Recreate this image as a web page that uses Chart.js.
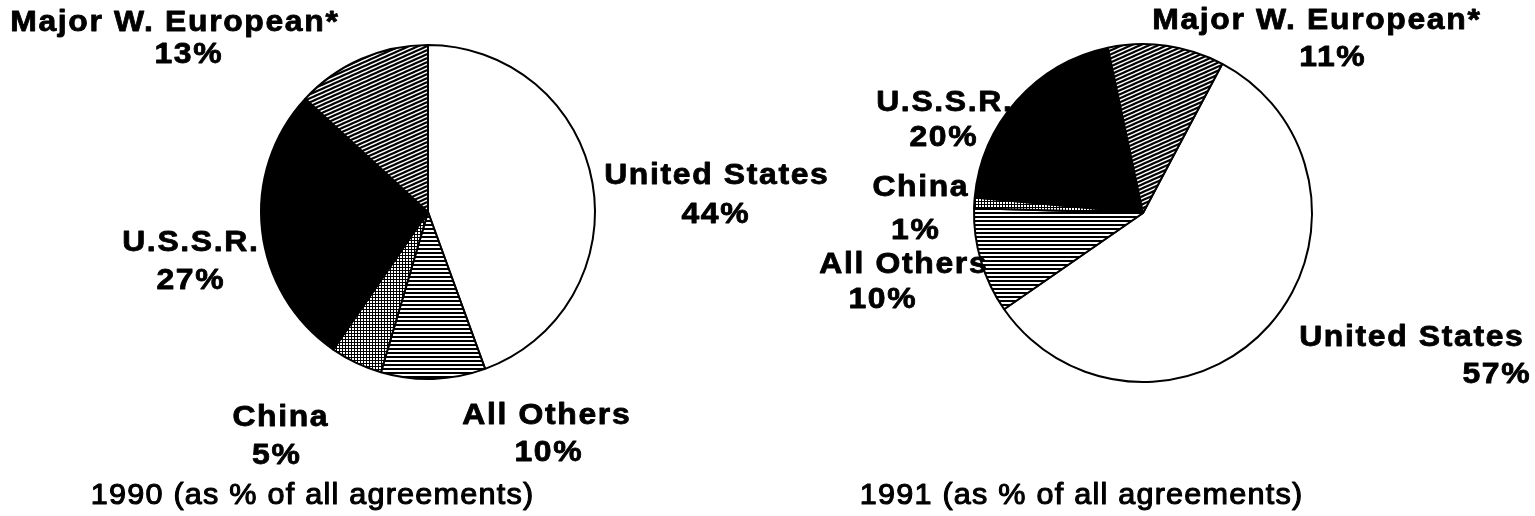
<!DOCTYPE html>
<html>
<head>
<meta charset="utf-8">
<script src="https://cdn.jsdelivr.net/npm/chart.js@4.4.0/dist/chart.umd.min.js"></script>
<style>
  html, body { margin: 0; background: #fff; }
  #wrap { position: relative; width: 1535px; height: 516px; }
  canvas { position: absolute; left: 0; top: 0; }
</style>
</head>
<body>
<div id="wrap">
  <canvas id="c1990" width="1535" height="516"></canvas>
  <canvas id="c1991" width="1535" height="516"></canvas>
</div>
<script>
// categories in clockwise order, starting at the rotation angle
const categories = ['United States', 'All Others', 'China', 'U.S.S.R.', 'Major W. European*'];
const values1990 = [44, 10, 5, 27, 13];
const values1991 = [57, 10, 1, 20, 11];
const titles = ['1990 (as % of all agreements)', '1991 (as % of all agreements)'];

// where the label text sits (name line, percent line) - text baselines
const namePos1990 = [[716, 184], [546, 424], [280, 426], [190, 251], [174, 31]];
const pctPos1990  = [[715, 223], [548, 461], [276, 464], [190, 289], [188, 63]];
const namePos1991 = [[1411, 346], [903, 273], [920, 196], [944, 111], [1316, 29]];
const pctPos1991  = [[1496, 383], [882, 308], [915, 239], [943, 146], [1332, 66]];

const W = 1535, H = 516;

function makePattern(ctx, w, h, draw) {
    const c = document.createElement('canvas');
    c.width = w; c.height = h;
    const t = c.getContext('2d');
    t.fillStyle = '#fff';
    t.fillRect(0, 0, w, h);
    t.fillStyle = '#000';
    t.strokeStyle = '#000';
    draw(t, w, h);
    return ctx.createPattern(c, 'repeat');
}

function fillsFor(ctx) {
    const diag = makePattern(ctx, 9, 4, (t, w, h) => {
        t.lineWidth = 2.1;
        for (let k = -2; k <= 2; k++) {
            t.beginPath();
            t.moveTo(-w, 2 * h + k * h);
            t.lineTo(2 * w, -h + k * h);
            t.stroke();
        }
    });
    const horiz = makePattern(ctx, 4, 4, (t) => { t.fillRect(0, 0, 4, 2); });
    const cross = makePattern(ctx, 3, 3, (t) => {
        t.fillRect(0, 0, 3, 3);
        t.fillStyle = '#fff';
        t.fillRect(1, 1, 2, 2);
    });
    return ['#ffffff', horiz, cross, '#000000', diag];
}

function drawText(ctx, text, x, y, font, spacing, sx, stroke) {
    ctx.save();
    ctx.translate(x, y);
    ctx.scale(sx, 1);
    ctx.font = font;
    ctx.letterSpacing = spacing + 'px';
    ctx.textAlign = 'center';
    ctx.textBaseline = 'alphabetic';
    ctx.fillStyle = '#000';
    ctx.fillText(text, spacing / 2, 0);
    if (stroke) {
        ctx.strokeStyle = '#000';
        ctx.lineWidth = stroke;
        ctx.lineJoin = 'round';
        ctx.strokeText(text, spacing / 2, 0);
    }
    ctx.restore();
}

function textPlugin(values, namePos, pctPos, title, titlePos) {
    return {
        id: 'pieTexts',
        afterDraw(chart) {
            const ctx = chart.ctx;
            const labelFont = 'bold 29px "Liberation Sans"';
            categories.forEach((name, i) => {
                drawText(ctx, name, namePos[i][0], namePos[i][1], labelFont, 1.5, 1.1, 0.8);
                drawText(ctx, values[i] + '%', pctPos[i][0], pctPos[i][1], labelFont, 1.5, 1.1, 0.8);
            });
            // medium-weight title: regular face thickened a little
            drawText(ctx, title, titlePos[0], titlePos[1], '30px "Liberation Sans"', 1.2, 1.02, 1.1);
        }
    };
}

function pieChart(id, values, rotation, cx, cy, R, namePos, pctPos, title, titlePos) {
    const ctx = document.getElementById(id).getContext('2d');
    return new Chart(ctx, {
        type: 'pie',
        data: {
            labels: categories,
            datasets: [{
                data: values,
                backgroundColor: fillsFor(ctx),
                borderColor: '#000',
                borderWidth: 2
            }]
        },
        options: {
            responsive: false,
            animation: false,
            events: [],
            rotation: rotation,
            layout: { padding: { left: cx - R, right: W - cx - R, top: cy - R, bottom: H - cy - R } },
            plugins: { legend: { display: false }, tooltip: { enabled: false } }
        },
        plugins: [textPlugin(values, namePos, pctPos, title, titlePos)]
    });
}

pieChart('c1990', values1990, 0, 428, 212, 168, namePos1990, pctPos1990, titles[0], [312, 504]);
pieChart('c1991', values1991, 28, 1143, 213, 170, namePos1991, pctPos1991, titles[1], [1081, 504]);
</script>
</body>
</html>
